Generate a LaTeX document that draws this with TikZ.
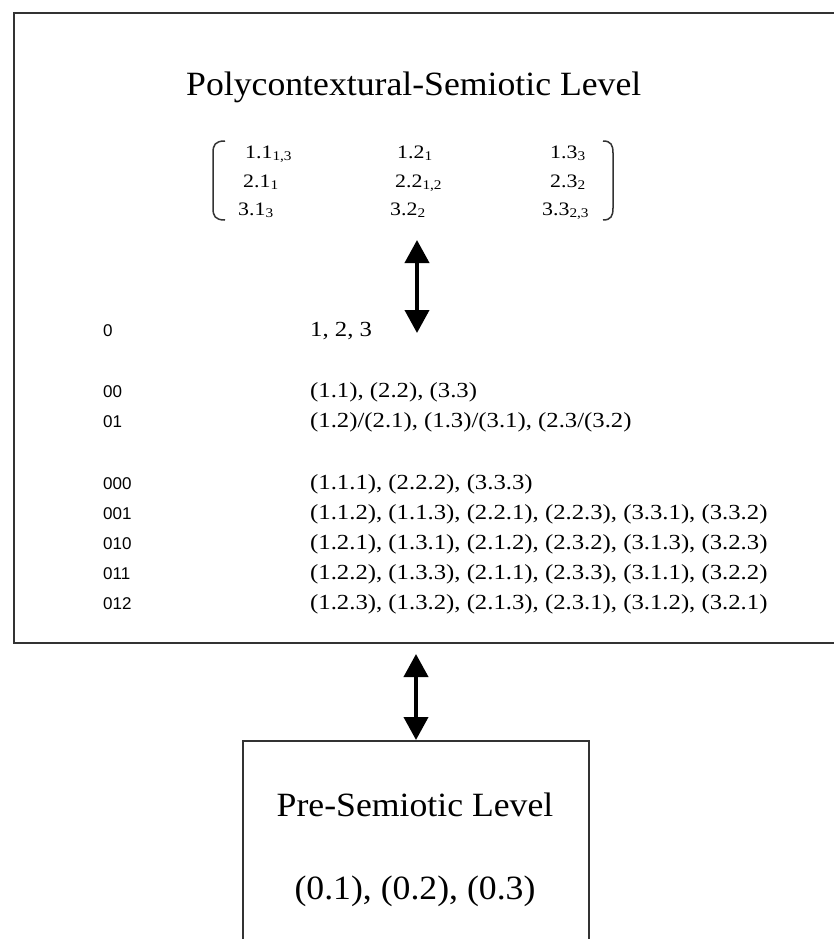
\documentclass[tikz,border=0pt]{standalone}
\usepackage{fontspec}
\setmainfont{Liberation Serif}
\setsansfont{Liberation Sans}
\newfontfamily\widefont[FakeStretch=1.15]{Liberation Serif}
\newfontfamily\levelfont[FakeStretch=1.05]{Liberation Serif}
\usetikzlibrary{arrows.meta}
\begin{document}
\begin{tikzpicture}[x=1pt, y=-1pt,
		every node/.style={inner sep=0pt, anchor=base west},
		frame/.style={draw=black!80, line width=2pt, anchor=north west},
		heading/.style={font=\levelfont\fontsize{34}{38}\selectfont},
		prelevel/.style={anchor=base, font=\levelfont\fontsize{34}{38}\selectfont},
		entry/.style={font=\widefont\fontsize{19}{22}\selectfont},
		code/.style={font=\sffamily\fontsize{17}{20}\selectfont},
		relation/.style={font=\widefont\fontsize{21.5}{24}\selectfont},
		bracket/.style={draw=black!80, line width=1.5pt},
		biarrow/.style={{Triangle[length=23pt,width=24pt]}-{Triangle[length=23pt,width=24pt]}, line width=4pt}]

		\useasboundingbox (0,0) rectangle (833,939);

		% the two levels
		\node[frame, minimum width=850pt, minimum height=630pt] (poly) at (13,12) {};
		\node[frame, minimum width=346pt, minimum height=300pt] (pre) at (242,740) {};

		\node[heading] (title) at (186,96) {Polycontextural-Semiotic Level};

		% matrix
		\node[entry] (m11) at (245,158) {1.1\textsubscript{1,3}};
		\node[entry] (m12) at (397,158) {1.2\textsubscript{1}};
		\node[entry] (m13) at (550,158) {1.3\textsubscript{3}};
		\node[entry] (m21) at (243,187) {2.1\textsubscript{1}};
		\node[entry] (m22) at (395,187) {2.2\textsubscript{1,2}};
		\node[entry] (m23) at (550,187) {2.3\textsubscript{2}};
		\node[entry] (m31) at (238,215) {3.1\textsubscript{3}};
		\node[entry] (m32) at (390,215) {3.2\textsubscript{2}};
		\node[entry] (m33) at (542,215) {3.3\textsubscript{2,3}};

		\draw[bracket] (225,141) .. controls (215,141) and (213,145) .. (213,153) -- (213,208) .. controls (213,216) and (215,220) .. (225,220);
		\draw[bracket] (603,141) .. controls (611,141) and (613,145) .. (613,153) -- (613,208) .. controls (613,216) and (611,220) .. (603,220);

		\coordinate (up) at (417,240);
		\coordinate (down) at (417,333);
		\draw[biarrow] (up) -- (down);

		% codes and relations
		\node[code] (c0) at (103,336) {0};
		\node[relation] (r0) at (310,336) {1, 2, 3};

		\node[code] (c00) at (103,397) {00};
		\node[relation] (r00) at (310,397) {(1.1), (2.2), (3.3)};
		\node[code] (c01) at (103,427) {01};
		\node[relation] (r01) at (310,427) {(1.2)/(2.1), (1.3)/(3.1), (2.3/(3.2)};

		\node[code] (c000) at (103,489) {000};
		\node[relation] (r000) at (310,489) {(1.1.1), (2.2.2), (3.3.3)};
		\node[code] (c001) at (103,519) {001};
		\node[relation] (r001) at (310,519) {(1.1.2), (1.1.3), (2.2.1), (2.2.3), (3.3.1), (3.3.2)};
		\node[code] (c010) at (103,549) {010};
		\node[relation] (r010) at (310,549) {(1.2.1), (1.3.1), (2.1.2), (2.3.2), (3.1.3), (3.2.3)};
		\node[code] (c011) at (103,579) {011};
		\node[relation] (r011) at (310,579) {(1.2.2), (1.3.3), (2.1.1), (2.3.3), (3.1.1), (3.2.2)};
		\node[code] (c012) at (103,609) {012};
		\node[relation] (r012) at (310,609) {(1.2.3), (1.3.2), (2.1.3), (2.3.1), (3.1.2), (3.2.1)};

		\draw[biarrow, shorten <=10pt] (poly.south -| pre.north) -- (pre.north);

		\node[prelevel] (pretitle) at (415,816) {Pre-Semiotic Level};
		\node[prelevel] (prerel) at (415,899) {(0.1), (0.2), (0.3)};
	\end{tikzpicture}
\end{document}
